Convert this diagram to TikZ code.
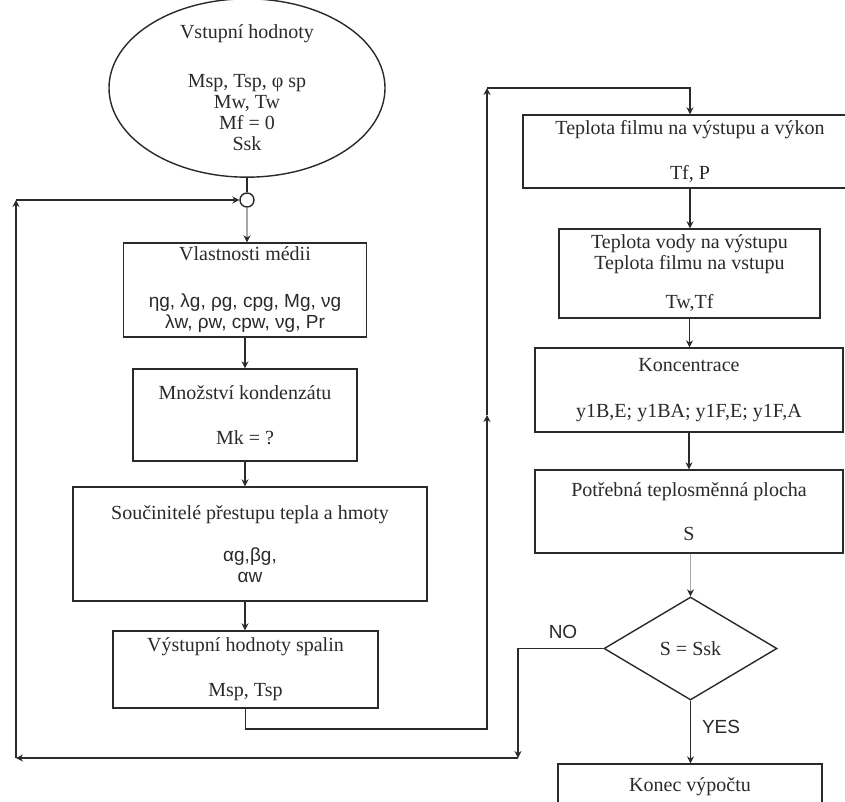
\documentclass[tikz,border=0pt]{standalone}
\usepackage{fontspec}
\setmainfont{Liberation Serif}
\newfontfamily\arialf{Liberation Sans}
\usetikzlibrary{arrows.meta,shapes.geometric}
\definecolor{ink}{HTML}{2A2A2A}
\definecolor{lgray}{HTML}{A8A8A8}
\begin{document}
\begin{tikzpicture}[x=1pt,y=-1pt,
  txt/.style={font=\fontsize{20}{21}\selectfont, text=ink},
  boxst/.style={txt, draw=ink, line width=1.4pt, rectangle, align=center, inner sep=0pt},
  ln/.style={draw=ink, line width=1.5pt},
  gln/.style={draw=lgray, line width=1.8pt},
  arr/.style={-{Stealth[length=7pt,width=7pt,color=ink]}},
  lab/.style={font=\arialf\fontsize{19}{19}\selectfont, text=ink},
  sansv/.style={}
]
\clip (0,0) rectangle (845,801);
\fill[white] (0,0) rectangle (845,801);

% start ellipse and junction
\node[txt, draw=ink, line width=1.4pt, ellipse, minimum width=276pt, minimum height=157pt, inner sep=0pt, align=center] (start) at (247,88)
  {Vstupní hodnoty\\[28pt]Msp, Tsp, φ sp\\Mw, Tw\\Mf = 0\\Ssk};
\node[draw=ink, line width=1.4pt, circle, minimum size=14pt, inner sep=0pt, fill=white] (jn) at (247,200) {};

% left column
\node[boxst, minimum width=243pt, minimum height=94pt] (b1) at (245,290)
  {Vlastnosti médii\\[26pt]{\arialf\fontsize{19}{20}\selectfont ηg, λg, ρg, cpg, Mg, νg}\\{\arialf\fontsize{19}{20}\selectfont λw, ρw, cpw, νg, Pr}};
\node[boxst, minimum width=224pt, minimum height=92pt] (b2) at (245,415)
  {Množství kondenzátu\\[24pt]Mk = ?};
\node[boxst, minimum width=354pt, minimum height=114pt] (b3) at (250,544)
  {Součinitelé přestupu tepla a hmoty\\[21pt]{\arialf\fontsize{19}{20}\selectfont αg,βg,}\\{\arialf\fontsize{19}{20}\selectfont αw}};
\node[boxst, minimum width=265pt, minimum height=77pt] (b4) at (245.5,669.5)
  {Výstupní hodnoty spalin\\[24pt]Msp, Tsp};

% right column
\node[boxst, minimum width=334pt, minimum height=73pt] (b5) at (690,151.5)
  {Teplota filmu na výstupu a výkon\\[24pt]Tf, P};
\node[boxst, minimum width=261pt, minimum height=89pt] (b6) at (689.5,273.5)
  {Teplota vody na výstupu\\Teplota filmu na vstupu\\[18pt]Tw,Tf};
\node[boxst, minimum width=308pt, minimum height=84pt] (b7) at (689,390)
  {Koncentrace\\[25pt]y1B,E; y1BA; y1F,E; y1F,A};
\node[boxst, minimum width=308pt, minimum height=83pt] (b8) at (689,511.5)
  {Potřebná teplosměnná plocha\\[23pt]S};
\node[txt, draw=ink, line width=1.4pt, diamond, aspect=1.68, minimum width=173pt, minimum height=103pt, inner sep=0pt] (d) at (690.5,648.5) {S = Ssk};
\node[boxst, minimum width=264pt, minimum height=46pt] (b9) at (690,787) {Konec výpočtu};

% labels
\node[lab] (no) at (563,632) {NO};
\node[lab] (yes) at (721,727) {YES};

% coordinates for routed connectors
\coordinate (r1) at (245.5,729);
\coordinate (r2) at (487,729);
\coordinate (r3) at (487,415);
\coordinate (r4) at (487,88);
\coordinate (r5) at (690,88);
\coordinate (n1) at (518,648.5);
\coordinate (n2) at (518,758);
\coordinate (l1) at (16,758);
\coordinate (l2) at (16,200);

% connectors, left column
\draw[ln] (start.south) -- (jn.north);
\draw[gln, arr] (jn.south) -- (jn.south |- b1.north);
\draw[ln, arr] (b1.south) -- (b1.south |- b2.north);
\draw[ln, arr] (b2.south) -- (b2.south |- b3.north);
\draw[ln, arr] (b2.south |- b3.south) -- (b2.south |- b4.north);

% loop to right column
\draw[ln, arr] (b4.south) -- (r1) -- (r2) -- (r3);
\draw[ln, arr] (r3) -- (r4);
\draw[ln, arr] (r4) -- (r5) -- (b5.north);

% connectors, right column
\draw[ln, arr] (b5.south) -- (b5.south |- b6.north);
\draw[ln, arr] (b6.south) -- (b6.south |- b7.north);
\draw[ln, arr] (b7.south) -- (b7.south |- b8.north);
\draw[gln, arr] (b8.south -| d.north) -- (d.north);
\draw[ln, arr] (d.south) -- (d.south |- b9.north);

% NO loop back
\draw[ln, arr] (d.west) -- (n1) -- (n2);
\draw[ln, arr] (n2) -- (l1);
\draw[ln, arr] (l1) -- (l2);
\draw[ln, arr] (l2) -- (jn.west);
\end{tikzpicture}
\end{document}
